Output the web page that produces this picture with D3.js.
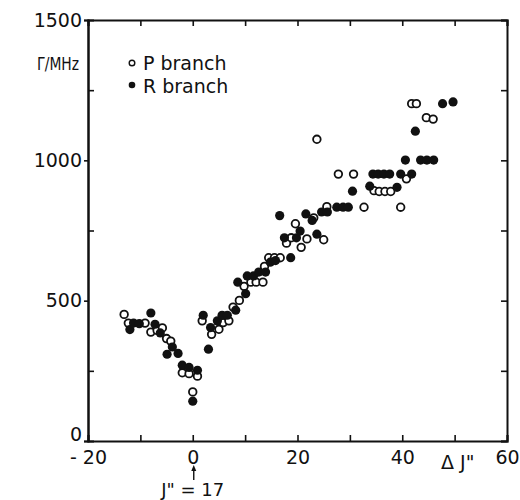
<!DOCTYPE html>
<html>
<head>
<meta charset="utf-8">
<script src="https://cdn.jsdelivr.net/npm/d3@7"></script>
<style>
  body { margin: 0; background: #fff; }
  text { font-family: "DejaVu Sans", sans-serif; fill: #111; }
</style>
</head>
<body>
<div id="chart"></div>
<script>
// values: [deltaJ, linewidth in MHz]
var pBranch = [
  [-13.1,451],[-12.3,420],[-9.1,420],[-8.0,388],[-6.8,394],[-5.8,403],[-5.0,365],[-4.2,356],
  [-2.0,243],[-0.7,240],[0.9,231],[0.0,175],[1.8,428],[3.6,380],[5.0,398],[5.8,422],
  [6.9,428],[7.7,477],[8.9,501],[9.8,551],[11.1,566],[12.1,566],[13.4,566],[13.7,622],
  [14.5,653],[15.6,653],[16.7,653],[17.9,705],[18.8,724],[20.7,690],[21.8,720],[19.6,774],
  [23.1,795],[25.0,717],[25.6,835],[23.7,1075],[27.8,951],[30.7,951],[32.7,833],[34.6,892],
  [35.6,889],[36.7,889],[37.8,889],[39.7,833],[40.8,934],[41.8,1202],[42.7,1202],[44.6,1152],
  [45.9,1147]
];
var rBranch = [
  [-12.0,397],[-11.3,420],[-10.2,418],[-8.0,456],[-7.2,416],[-6.2,385],[-4.9,309],[-3.9,335],
  [-2.8,312],[-2.0,270],[-0.7,262],[0.9,252],[0.0,142],[2.0,448],[3.0,327],[3.4,404],
  [4.7,428],[5.6,448],[6.6,448],[8.2,466],[8.6,566],[10.1,525],[10.4,588],[11.6,588],
  [12.6,602],[13.9,602],[14.8,637],[15.8,643],[16.6,803],[18.7,653],[17.5,724],[19.8,724],
  [20.5,748],[21.6,809],[22.8,786],[23.7,737],[24.6,816],[25.7,816],[27.5,833],[28.7,833],
  [29.7,833],[30.5,890],[33.8,908],[34.4,951],[35.4,951],[36.5,951],[37.6,951],[39.0,904],
  [39.7,951],[41.8,951],[40.6,1001],[42.5,1104],[43.5,1001],[44.7,1001],[46.0,1001],
  [47.7,1202],[49.7,1208]
];
var xTicks = [-20, -10, 0, 10, 20, 30, 40, 50, 60];
var xLabels = [-20, 0, 20, 40, 60];
var yTicks = [0, 250, 500, 750, 1000, 1250, 1500];
var yLabels = [0, 500, 1000, 1500];

var svgWidth = 520, svgHeight = 500;
var margin = {top: 20, right: 13, bottom: 59, left: 88};
var plotWidth = svgWidth - margin.left - margin.right;
var plotHeight = svgHeight - margin.top - margin.bottom;

var svg = d3.select("#chart").append("svg")
    .attr("width", svgWidth)
    .attr("height", svgHeight);

var plot = svg.append("g")
    .attr("transform", `translate(${margin.left},${margin.top})`);

var scX = d3.scaleLinear().domain([-20, 60]).range([0, plotWidth]);
var scY = d3.scaleLinear().domain([0, 1500]).range([plotHeight, 0]);

function fmtX(d) {
  if (xLabels.indexOf(d) < 0) return "";
  return d < 0 ? "- " + Math.abs(d) : d;
}

// bottom axis, ticks pointing inward
plot.append("g")
    .attr("transform", `translate(0,${plotHeight})`)
    .call(d3.axisBottom(scX).tickValues(xTicks).tickSize(-6).tickPadding(10).tickFormat(fmtX))
    .call(g => g.selectAll("text").attr("font-size", 19).attr("font-family", "DejaVu Sans"));

// top axis
plot.append("g")
    .call(d3.axisTop(scX).tickValues(xTicks).tickSize(-6).tickFormat(""));

// left axis: labelled ticks outward, minor ticks inward
plot.append("g")
    .call(d3.axisLeft(scY).tickValues(yLabels).tickSize(4).tickPadding(2).tickFormat(d3.format("d")))
    .call(g => g.selectAll("text").attr("font-size", 19).attr("font-family", "DejaVu Sans")
        .attr("dy", d => d === 0 ? "-0.05em" : "0.32em"));
plot.append("g")
    .call(d3.axisLeft(scY).tickValues([250, 750, 1250]).tickSize(-6).tickFormat(""));

// right axis
plot.append("g")
    .attr("transform", `translate(${plotWidth},0)`)
    .call(d3.axisRight(scY).tickValues(yTicks).tickSize(-6).tickFormat(""));

svg.selectAll(".domain").attr("stroke", "#111").attr("stroke-width", 2);
svg.selectAll(".tick line").attr("stroke", "#111").attr("stroke-width", 1.6);

// data
plot.selectAll("circle.p")
    .data(pBranch)
    .enter()
    .append("circle")
    .attr("class", "p")
    .attr("r", 3.8)
    .attr("cx", d => scX(d[0]))
    .attr("cy", d => scY(d[1]))
    .attr("fill", "#fff")
    .attr("stroke", "#111")
    .attr("stroke-width", 1.8);

plot.selectAll("circle.r")
    .data(rBranch)
    .enter()
    .append("circle")
    .attr("class", "r")
    .attr("r", 4.6)
    .attr("cx", d => scX(d[0]))
    .attr("cy", d => scY(d[1]))
    .attr("fill", "#111");

// labels
svg.append("text").attr("x", 37).attr("y", 70)
    .attr("font-size", 18).attr("textLength", 42).attr("lengthAdjust", "spacingAndGlyphs")
    .text("Γ/MHz");
svg.append("text").attr("x", 441).attr("y", 469)
    .attr("font-size", 19).text("Δ J\"");

// legend
svg.append("circle").attr("cx", 132).attr("cy", 63).attr("r", 2.8)
    .attr("fill", "#fff").attr("stroke", "#111").attr("stroke-width", 1.4);
svg.append("text").attr("x", 143).attr("y", 70).attr("font-size", 19).text("P branch");
svg.append("circle").attr("cx", 132).attr("cy", 85).attr("r", 3.3).attr("fill", "#111");
svg.append("text").attr("x", 143).attr("y", 93).attr("font-size", 19).text("R branch");

// J" = 17 marker under zero
var x0 = margin.left + scX(0);
svg.append("line").attr("x1", x0 + 1).attr("x2", x0 + 1).attr("y1", 480).attr("y2", 469)
    .attr("stroke", "#111").attr("stroke-width", 1.4);
svg.append("path").attr("d", `M${x0 + 1},465 l-2.5,6 l5,0 z`).attr("fill", "#111");
svg.append("text").attr("x", x0).attr("y", 496).attr("text-anchor", "middle")
    .attr("font-size", 18).text("J\" = 17");
</script>
</body>
</html>
